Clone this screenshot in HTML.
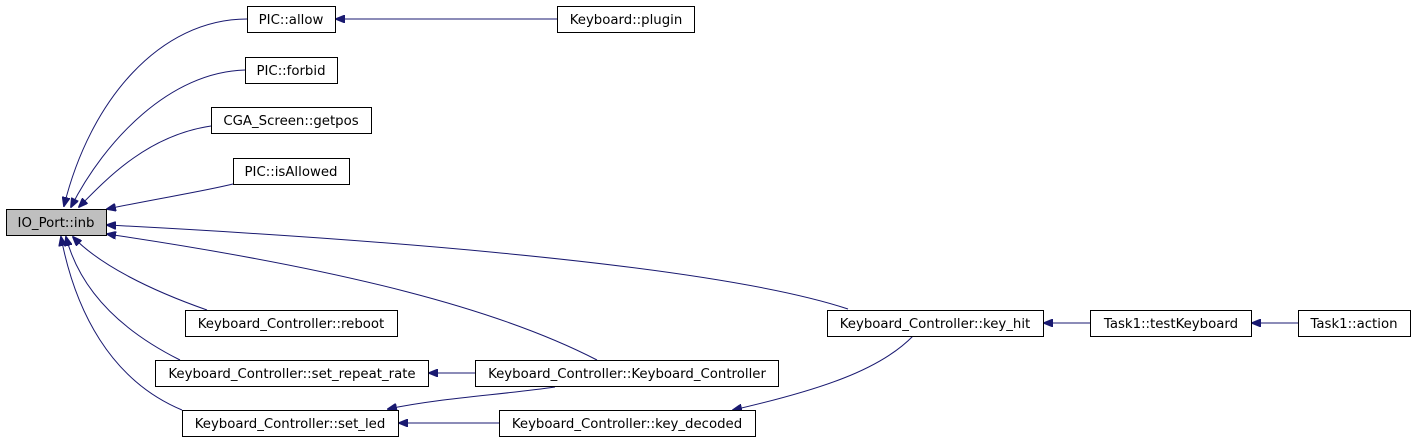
<!DOCTYPE html>
<html><head><meta charset="utf-8"><style>
html,body{margin:0;padding:0;background:#fff;}
svg{display:block;}
text{font-family:"DejaVu Sans","Liberation Sans",sans-serif;font-size:13.3px;fill:#000;}
</style></head><body>
<svg width="1416" height="443" viewBox="0 0 1416 443" xmlns="http://www.w3.org/2000/svg">
<defs>
<marker id="a" markerWidth="10" markerHeight="8" refX="9" refY="4" orient="auto" markerUnits="userSpaceOnUse">
<polygon points="0,0 10,4 0,8" fill="#191970" stroke="#191970"/>
</marker>
</defs>
<g fill="none" stroke="#191970" stroke-width="1" marker-end="url(#a)">
<path d="M557,19 L336,19"/>
<path d="M247,19 C160,19 90,100 64,206"/>
<path d="M245,70 C170,72 105,140 71,207"/>
<path d="M211,126 C150,135 110,175 79,207"/>
<path d="M233,184 C200,192 160,198 107,209"/>
<path d="M848,309 C700,260 300,235 107,225"/>
<path d="M597,360 C500,310 350,270 107,234"/>
<path d="M207,310 C150,290 100,265 73,237"/>
<path d="M180,360 C120,330 80,290 66,237"/>
<path d="M182,410 C110,380 75,310 61,237"/>
<path d="M475,373 L429,373"/>
<path d="M555,387 C500,395 440,398 388,409"/>
<path d="M499,423 L399,423"/>
<path d="M913,336 C880,370 820,390 733,410"/>
<path d="M1090,323 L1044,323"/>
<path d="M1298,323 L1252,323"/>
</g>
<g stroke="#000" stroke-width="1">
<rect x="6.5" y="209.5" width="100" height="26" fill="#bfbfbf"/>
<rect x="247.5" y="6.5" width="88" height="26" fill="#fff"/>
<rect x="557.5" y="6.5" width="137" height="26" fill="#fff"/>
<rect x="245.5" y="57.5" width="92" height="26" fill="#fff"/>
<rect x="211.5" y="107.5" width="160" height="26" fill="#fff"/>
<rect x="233.5" y="158.5" width="116" height="26" fill="#fff"/>
<rect x="185.5" y="310.5" width="212" height="26" fill="#fff"/>
<rect x="155.5" y="360.5" width="273" height="26" fill="#fff"/>
<rect x="475.5" y="360.5" width="303" height="26" fill="#fff"/>
<rect x="182.5" y="410.5" width="216" height="26" fill="#fff"/>
<rect x="499.5" y="410.5" width="256" height="26" fill="#fff"/>
<rect x="827.5" y="310.5" width="216" height="26" fill="#fff"/>
<rect x="1090.5" y="310.5" width="161" height="26" fill="#fff"/>
<rect x="1298.5" y="310.5" width="112" height="26" fill="#fff"/>
</g>
<g text-anchor="middle">
<text x="56" y="227">IO_Port::inb</text>
<text x="291" y="24">PIC::allow</text>
<text x="626" y="24">Keyboard::plugin</text>
<text x="291" y="75">PIC::forbid</text>
<text x="291" y="125">CGA_Screen::getpos</text>
<text x="291" y="176">PIC::isAllowed</text>
<text x="291" y="328">Keyboard_Controller::reboot</text>
<text x="292" y="378">Keyboard_Controller::set_repeat_rate</text>
<text x="627" y="378">Keyboard_Controller::Keyboard_Controller</text>
<text x="290" y="428">Keyboard_Controller::set_led</text>
<text x="627" y="428">Keyboard_Controller::key_decoded</text>
<text x="935" y="328">Keyboard_Controller::key_hit</text>
<text x="1171" y="328">Task1::testKeyboard</text>
<text x="1354" y="328">Task1::action</text>
</g>
</svg>
</body></html>
